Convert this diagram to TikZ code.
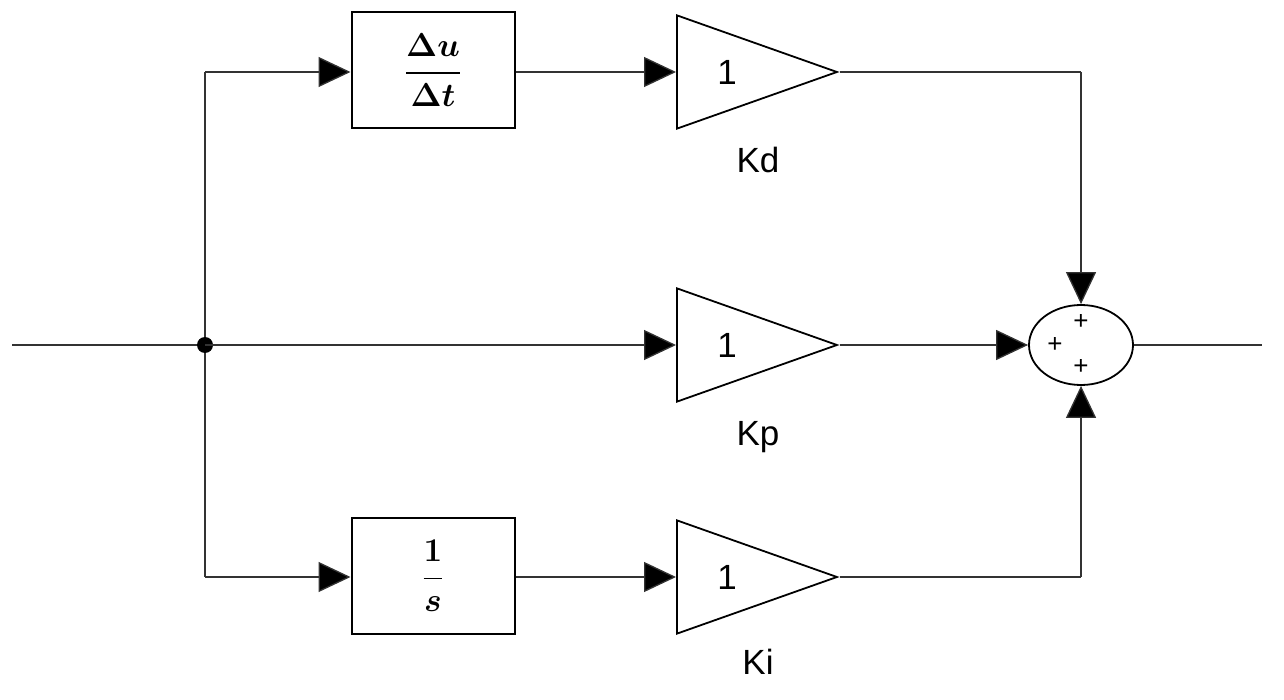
\documentclass[tikz,border=0pt]{standalone}
\usepackage{fontspec}
\usepackage{amsmath,bm,graphicx}
\setmainfont{Liberation Sans}
\usetikzlibrary{arrows.meta,shapes.geometric}
\begin{document}
\begin{tikzpicture}[x=1pt,y=-1pt,
  wire/.style={line width=1.3pt,draw=black!80},
  arr/.style={wire,-{Triangle[length=32pt,width=30pt,fill=black]}},
  blk/.style={draw,line width=2pt,fill=white,minimum width=163pt,minimum height=116pt,inner sep=0pt},
  gain/.style={draw,line width=1.8pt,isosceles triangle,isosceles triangle apex angle=39,minimum height=160pt,inner sep=0pt,fill=white},
  lab/.style={font=\fontsize{35}{38}\selectfont},
  pl/.style={font=\fontsize{26}{26}\selectfont,inner sep=0pt}]
\useasboundingbox (0,0) rectangle (1284,700);
\node[blk] (d) at (433,70) {\scalebox{1.6}{\fontsize{20}{24}\selectfont$\bm{\dfrac{\Delta u}{\Delta t}}$}};
\node[blk] (i) at (433,576) {\scalebox{1.6}{\fontsize{20}{24}\selectfont$\bm{\dfrac{1}{s}}$}};
\node[gain,anchor=west] (gd) at (676,72) {};
\node[gain,anchor=west] (gp) at (676,345) {};
\node[gain,anchor=west] (gi) at (676,577) {};
\node[lab] at (727,72) {1};
\node[lab] at (727,345) {1};
\node[lab] at (727,577) {1};
\node[lab] (kd) at (758,160) {Kd};
\node[lab] (kp) at (758,437) {Kp};
\node[lab] (ki) at (758,662) {Ki};
\node[draw,ellipse,line width=1.8pt,minimum width=104pt,minimum height=80pt,inner sep=0pt] (s) at (1081,345) {};
\node[pl] (p1) at (1081,322) {+};
\node[pl] (p2) at (1055,345) {+};
\node[pl] (p3) at (1081,367) {+};
\coordinate (in) at (12,345);
\coordinate (out) at (1262,345);
\coordinate (b) at (205,345);
\coordinate (bt) at (205,72);
\coordinate (bb) at (205,577);
\coordinate (ct) at (1081,72);
\coordinate (cb) at (1081,577);
\draw[wire] (in) -- (b);
\draw[wire] (bt) -- (bb);
\fill (b) circle (8pt);
\draw[arr] (bt) -- (d.west |- bt);
\draw[arr] (bb) -- (i.west |- bb);
\draw[arr] (b) -- (gp.west);
\draw[arr] (d.east |- gd.west) -- (gd.west);
\draw[arr] (i.east |- gi.west) -- (gi.west);
\draw[wire] (gd.apex) -- (ct);
\draw[arr] (ct) -- (s.north);
\draw[wire] (gi.apex) -- (cb);
\draw[arr] (cb) -- (s.south);
\draw[arr] (gp.apex) -- (s.west);
\draw[wire] (s.east) -- (out);
\end{tikzpicture}
\end{document}
